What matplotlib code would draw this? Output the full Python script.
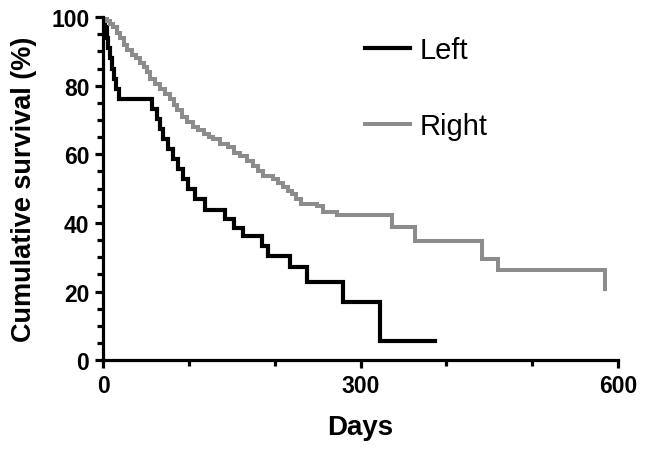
import matplotlib.pyplot as plt
from matplotlib.ticker import MultipleLocator

# Kaplan-Meier style data (days, cumulative survival %)
left_days = [0, 2, 4, 6, 8, 10, 13, 15, 18, 57, 63, 66, 70, 76, 81, 87, 93, 99,
             107, 119, 142, 152, 163, 185, 192, 218, 238, 279, 323, 387]
left_surv = [100, 97, 94, 91, 88, 85, 82, 79, 76, 73.1, 70.2, 67.3, 64.4, 61.5,
             58.6, 55.7, 52.8, 49.9, 47.0, 43.8, 41.1, 38.6, 36.2, 33.2, 30.3,
             27.1, 22.7, 17.0, 5.5, 5.5]

right_days = [0, 4, 8, 12, 16, 20, 24, 28, 33, 38, 43, 47, 51, 55, 60, 66, 72, 78,
              82, 86, 92, 98, 105, 111, 117, 123, 128, 136, 145, 152, 160, 168,
              175, 181, 186, 198, 204, 210, 215, 220, 225, 230, 249, 256, 273,
              337, 364, 442, 460, 585]
right_surv = [100, 99, 98, 97, 95.5, 94, 92, 90.5, 89, 88, 86.5, 85.5, 84, 82,
              80.5, 79, 77.5, 76, 74.5, 73, 71, 69.5, 68, 67, 66, 65, 64.5, 63,
              62, 60.5, 59.5, 58, 56.5, 55, 53.6, 52.8, 51.5, 50.4, 49.4, 48.4,
              47, 45.5, 44.9, 43.1, 42.3, 38.7, 34.7, 29.4, 26.4, 20.7]

plt.rcParams['font.family'] = ['Liberation Sans', 'DejaVu Sans']

fig = plt.figure(figsize=(6.45, 4.52), dpi=100)
ax = fig.add_axes([0.160, 0.201, 0.798, 0.759])

ax.plot(left_days, left_surv, drawstyle='steps-post', color='black',
        lw=3.0, label='Left', solid_joinstyle='miter')
ax.plot(right_days, right_surv, drawstyle='steps-post', color='#8c8c8c',
        lw=2.9, label='Right', solid_joinstyle='miter')

ax.set_xlim(0, 600)
ax.set_ylim(0, 100)

for s in ['top', 'right']:
    ax.spines[s].set_visible(False)
for s in ['left', 'bottom']:
    ax.spines[s].set_linewidth(2.3)

ax.xaxis.set_major_locator(MultipleLocator(300))
ax.xaxis.set_minor_locator(MultipleLocator(100))
ax.yaxis.set_major_locator(MultipleLocator(20))
ax.yaxis.set_minor_locator(MultipleLocator(5))
ax.tick_params(which='major', length=6, width=2.3, labelsize=16.5, pad=4)
ax.tick_params(which='minor', length=4.5, width=2.3)
for t in ax.get_xticklabels() + ax.get_yticklabels():
    t.set_fontweight('bold')

ax.set_xlabel('Days', fontsize=20, fontweight='bold', labelpad=12)
ax.set_ylabel('Cumulative survival (%)', fontsize=19.5, fontweight='bold', labelpad=10)

ax.legend(loc='upper left', bbox_to_anchor=(0.509, 0.945), frameon=False,
          fontsize=21, handlelength=1.55, handletextpad=0.3, labelspacing=1.65,
          borderpad=0, borderaxespad=0)

fig.savefig('out.png', dpi=100)
